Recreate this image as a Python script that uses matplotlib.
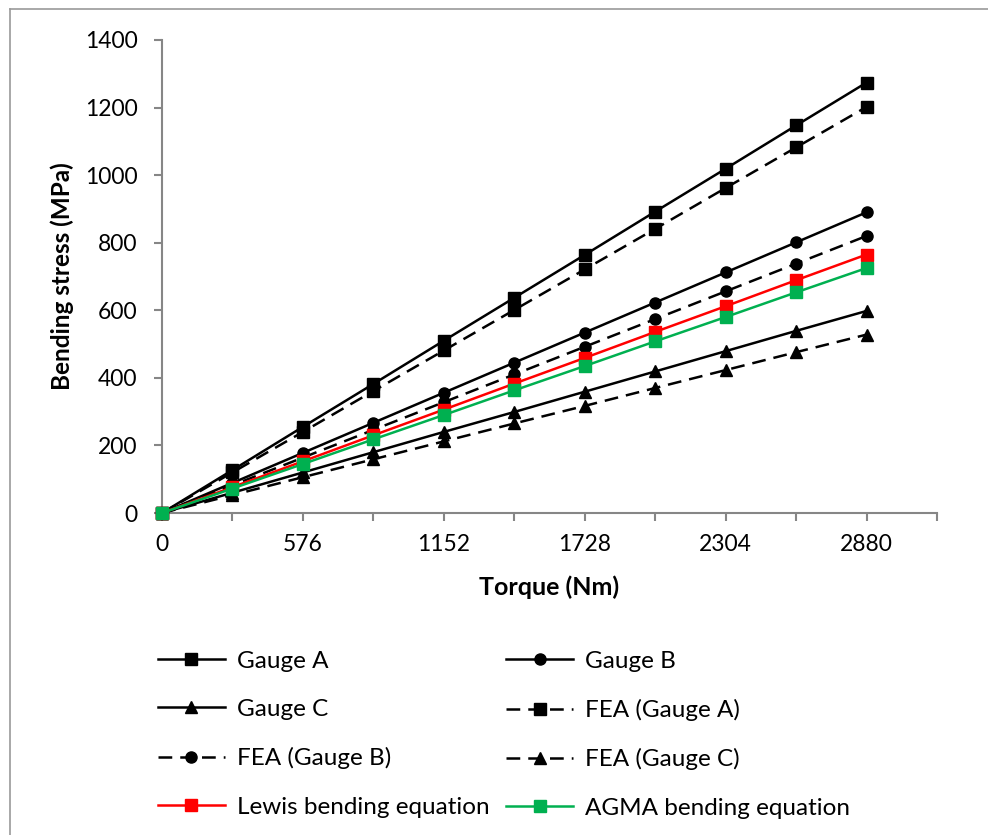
import matplotlib
matplotlib.use("Agg")
import matplotlib.pyplot as plt
from matplotlib.lines import Line2D

plt.rcParams['font.family'] = ['Lato', 'DejaVu Sans']

torque = [0, 288, 576, 864, 1152, 1440, 1728, 2016, 2304, 2592, 2880]

gauge_a = [0, 127, 255, 382, 510, 637, 764, 892, 1019, 1147, 1274]
gauge_b = [0, 89, 178, 267, 356, 445, 534, 623, 712, 801, 890]
gauge_c = [0, 60, 120, 180, 240, 299, 359, 419, 479, 539, 598]
fea_a = [0, 120, 240, 361, 481, 601, 721, 841, 962, 1082, 1202]
fea_b = [0, 82, 164, 246, 328, 410, 492, 574, 656, 738, 820]
fea_c = [0, 53, 106, 159, 212, 265, 317, 370, 423, 476, 528]
lewis = [0, 76.5, 153, 230, 306, 383, 459, 536, 612, 689, 765]
agma = [0, 72.5, 145, 218, 290, 363, 435, 508, 580, 653, 725]

x_ticks = [0, 288, 576, 864, 1152, 1440, 1728, 2016, 2304, 2592, 2880, 3168]
x_labels = ['0', '', '576', '', '1152', '', '1728', '', '2304', '', '2880', '']
y_ticks = [0, 200, 400, 600, 800, 1000, 1200, 1400]

fig = plt.figure(figsize=(9.88, 8.35), dpi=100)
ax = fig.add_axes([162 / 988, 1 - 513 / 835, (937 - 162) / 988, (513 - 40) / 835])

dash = (0, (5.5, 3.2))
lw = 1.8
ms = 8

series = [
    ("Gauge A", gauge_a, 'black', '-', 's'),
    ("Gauge B", gauge_b, 'black', '-', 'o'),
    ("Gauge C", gauge_c, 'black', '-', '^'),
    ("FEA (Gauge A)", fea_a, 'black', dash, 's'),
    ("FEA (Gauge B)", fea_b, 'black', dash, 'o'),
    ("FEA (Gauge C)", fea_c, 'black', dash, '^'),
    ("Lewis bending equation", lewis, '#FF0000', '-', 's'),
    ("AGMA bending equation", agma, '#00B050', '-', 's'),
]

handles = {}
for name, vals, color, ls, mk in series:
    h, = ax.plot(torque, vals, color=color, linestyle=ls, linewidth=lw,
                 marker=mk, markersize=ms, markerfacecolor=color,
                 markeredgecolor=color, clip_on=False, zorder=3)
    handles[name] = h

ax.set_xlim(0, 3168)
ax.set_ylim(0, 1400)
ax.set_xticks(x_ticks)
ax.set_xticklabels(x_labels)
ax.set_yticks(y_ticks)

for side in ['top', 'right']:
    ax.spines[side].set_visible(False)
for side in ['left', 'bottom']:
    ax.spines[side].set_color('#868686')
    ax.spines[side].set_linewidth(1.5)

ax.tick_params(axis='both', colors='#868686', width=1.5, length=6,
               labelcolor='black', labelsize=16.5)
ax.tick_params(axis='y', pad=11.5)
ax.tick_params(axis='x', pad=9)

ax.set_xlabel("Torque (Nm)", fontsize=18, fontweight='bold', labelpad=15)
ax.set_ylabel("Bending stress (MPa)", fontsize=17.5, fontweight='bold', labelpad=8)

order = ["Gauge A", "Gauge C", "FEA (Gauge B)", "Lewis bending equation",
         "Gauge B", "FEA (Gauge A)", "FEA (Gauge C)", "AGMA bending equation"]
leg = fig.legend([handles[n] for n in order], order, ncol=2,
                 loc='upper left', bbox_to_anchor=(148 / 988, 1 - 641 / 835),
                 frameon=False, fontsize=17.5, handlelength=2.75,
                 columnspacing=0.7, labelspacing=1.12, handletextpad=0.5,
                 borderaxespad=0)

# chart area frame (left and top edges)
fig.add_artist(Line2D([10 / 988, 10 / 988], [0, 1 - 9 / 835],
                      transform=fig.transFigure, color='#9a9a9a', linewidth=1.2))
fig.add_artist(Line2D([10 / 988, 1], [1 - 9 / 835, 1 - 9 / 835],
                      transform=fig.transFigure, color='#9a9a9a', linewidth=1.2))

fig.savefig("out.png", dpi=100)
